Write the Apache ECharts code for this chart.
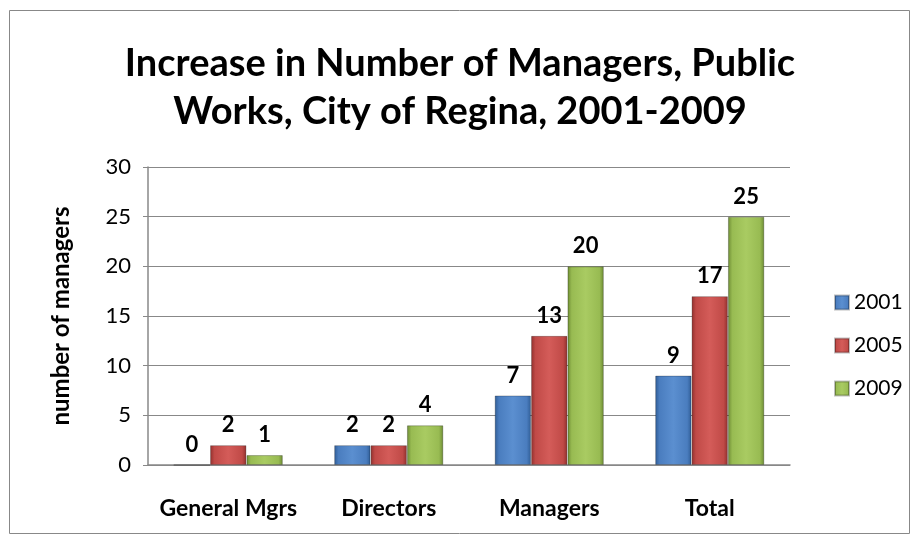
<!DOCTYPE html>
<html><head><meta charset="utf-8">
<script src="https://cdn.jsdelivr.net/npm/echarts@6/dist/echarts.min.js"></script>
<style>html,body{margin:0;padding:0;background:#fff}#c{width:920px;height:544px}</style>
</head><body><div id="c"></div>
<script>
const categories = ['General Mgrs', 'Directors', 'Managers', 'Total'];
const seriesNames = ['2001', '2005', '2009'];
const v2001 = [0, 2, 7, 9];
const v2005 = [2, 2, 13, 17];
const v2009 = [1, 4, 20, 25];
const titleText = 'Increase in Number of Managers, Public\nWorks, City of Regina, 2001-2009';
const yAxisTitle = 'number of managers';

const FONT = 'Lato';
function grad(dark, mid, light) {
  return new echarts.graphic.LinearGradient(0, 0, 1, 0, [
    {offset: 0, color: dark}, {offset: 0.12, color: mid}, {offset: 0.5, color: light},
    {offset: 0.88, color: mid}, {offset: 1, color: dark}]);
}
const fills = [
  grad('#2f5c94', '#4a7dbf', '#5b8fd0'),
  grad('#8f2f2c', '#c04a47', '#d45c59'),
  grad('#6c8a33', '#98bb52', '#a9cb62')
];
const legendColors = ['#4a7dbf', '#c04a47', '#98bb52'];
const allVals = [v2001, v2005, v2009];

const chart = echarts.init(document.getElementById('c'));
chart.setOption({
  animation: false,
  graphic: [{type: 'rect', shape: {x: 9.5, y: 10.5, width: 900, height: 523}, style: {fill: 'none', stroke: '#888', lineWidth: 1}}],
  title: {text: titleText, left: 'center', top: 35, itemGap: 0,
    textStyle: {fontFamily: FONT, fontWeight: 'bold', fontSize: 38, lineHeight: 48, color: '#000'}},
  legend: {orient: 'vertical', left: 829, top: 287, itemGap: 22, itemWidth: 14, itemHeight: 14, padding: 5,
    icon: 'rect', textStyle: {fontFamily: FONT, fontSize: 21, color: '#000'},
    data: seriesNames},
  grid: {left: 148, right: 130, top: 167, bottom: 79},
  xAxis: {type: 'category', data: categories,
    axisLine: {lineStyle: {color: '#888', width: 1.5}}, axisTick: {show: false},
    axisLabel: {interval: 0, fontFamily: FONT, fontWeight: 'bold', fontSize: 23, color: '#000', margin: 32}},
  yAxis: {type: 'value', min: 0, max: 30, interval: 5,
    name: yAxisTitle, nameLocation: 'middle', nameGap: 75,
    nameTextStyle: {fontFamily: FONT, fontWeight: 'bold', fontSize: 24, color: '#000'},
    axisLine: {show: true, lineStyle: {color: '#888', width: 1.5}},
    axisTick: {show: true, length: 5, lineStyle: {color: '#888'}},
    splitLine: {lineStyle: {color: '#888', width: 1.2}},
    axisLabel: {fontFamily: FONT, fontSize: 22, color: '#000', margin: 17}},
  series: seriesNames.map((n, i) => ({
    name: n, type: 'bar', data: allVals[i], barGap: '0%', barCategoryGap: '32%',
    itemStyle: {color: fills[i], borderColor: 'rgba(0,0,0,0.25)', borderWidth: 1},
    label: {show: true, position: 'top', distance: 9, fontFamily: FONT, fontWeight: 'bold', fontSize: 22, color: '#000'}
  }))
});
chart.setOption({series: seriesNames.map((n, i) => ({name: n, color: legendColors[i]}))});
</script></body></html>
